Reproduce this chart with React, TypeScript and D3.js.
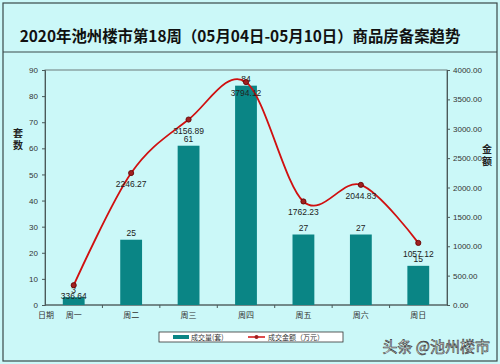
import React, { useEffect, useRef } from "react";
import * as d3 from "d3";

const days = ["周一", "周二", "周三", "周四", "周五", "周六", "周日"];
const volume = [3, 25, 61, 84, 27, 27, 15];
const amount = [336.64, 2246.27, 3156.89, 3794.12, 1762.23, 2044.83, 1057.12];
const leftTicks = [0, 10, 20, 30, 40, 50, 60, 70, 80, 90];
const rightTicks = [0, 500, 1000, 1500, 2000, 2500, 3000, 3500, 4000];

const W = 500;
const H = 364;
const FONT = "'Liberation Sans', 'Noto Sans CJK SC', sans-serif";
const CJK = "'Noto Sans CJK SC', sans-serif";

const App = () => {
  const svgRef = useRef<SVGSVGElement>(null);

  useEffect(() => {
    document.body.style.margin = "0";
    const margin = { top: 70, right: 53, bottom: 59, left: 45 };
    const svg = d3.select(svgRef.current);
    svg.selectAll("*").remove();

    // background + frame
    svg.append("rect").attr("width", W).attr("height", H).attr("fill", "#cbf8f8");
    svg.append("rect").attr("x", 3).attr("y", 3).attr("width", W - 6).attr("height", H - 6)
      .attr("fill", "none").attr("stroke", "#3a4a4a").attr("stroke-width", 1.2);
    svg.append("line").attr("x1", 3).attr("x2", W - 3).attr("y1", 52).attr("y2", 52)
      .attr("stroke", "#3a4a4a").attr("stroke-width", 1);

    svg.append("text").attr("x", 240).attr("y", 42).attr("text-anchor", "middle")
      .attr("font-family", CJK).attr("font-weight", "bold")
      .attr("font-size", 15.4).attr("fill", "#111")
      .text("2020年池州楼市第18周（05月04日-05月10日）商品房备案趋势");

    const x0 = margin.left, x1 = W - margin.right;
    const y0 = H - margin.bottom, y1 = margin.top;

    const x = d3.scaleBand().domain(days).range([x0, x1]).paddingInner(0.62).paddingOuter(0.31);
    const yL = d3.scaleLinear().domain([0, 90]).range([y0, y1]);
    const yR = d3.scaleLinear().domain([0, 4000]).range([y0, y1]);

    // plot box
    svg.append("rect").attr("x", x0).attr("y", y1).attr("width", x1 - x0).attr("height", y0 - y1)
      .attr("fill", "none").attr("stroke", "#6d7a7a").attr("stroke-width", 1);

    // left axis
    const gl = svg.append("g").attr("transform", `translate(${x0},0)`)
      .call(d3.axisLeft(yL).tickValues(leftTicks).tickSize(3).tickPadding(4));
    gl.select(".domain").attr("stroke", "#4a5a5a");
    gl.selectAll("line").attr("stroke", "#4a5a5a");
    gl.selectAll("text").attr("font-size", 8).attr("font-family", FONT).attr("fill", "#333");

    // right axis
    const gr = svg.append("g").attr("transform", `translate(${x1},0)`)
      .call(d3.axisRight(yR).tickValues(rightTicks).tickSize(3).tickPadding(3).tickFormat(d3.format(".2f")));
    gr.select(".domain").attr("stroke", "#4a5a5a");
    gr.selectAll("line").attr("stroke", "#4a5a5a");
    gr.selectAll("text").attr("font-size", 8).attr("font-family", FONT).attr("fill", "#333");

    // x boundary ticks
    const step = (x1 - x0) / days.length;
    svg.append("g").selectAll("line").data(d3.range(1, days.length)).join("line")
      .attr("x1", (i) => x0 + i * step).attr("x2", (i) => x0 + i * step)
      .attr("y1", y0).attr("y2", y0 + 3).attr("stroke", "#4a5a5a");
    svg.append("line").attr("x1", x0).attr("x2", x1).attr("y1", y0).attr("y2", y0)
      .attr("stroke", "#4a5a5a");

    svg.append("g").selectAll("text").data(days).join("text")
      .attr("x", (d) => x(d)! + x.bandwidth() / 2).attr("y", y0 + 13)
      .attr("text-anchor", "middle").attr("font-size", 8)
      .attr("font-family", CJK).attr("fill", "#333").text((d) => d);
    svg.append("text").attr("x", 46).attr("y", y0 + 13).attr("text-anchor", "middle")
      .attr("font-size", 8).attr("font-family", CJK).attr("fill", "#333")
      .text("日期");

    // axis titles, stacked characters
    const vt = (cx: number, cy: number, s: string) => {
      svg.append("g").selectAll("text").data(s.split("")).join("text")
        .attr("x", cx).attr("y", (_, i) => cy + i * 11.5).attr("text-anchor", "middle")
        .attr("font-size", 10).attr("font-weight", "bold")
        .attr("font-family", CJK).attr("fill", "#222").text((c) => c);
    };
    vt(18, 137, "套数");
    vt(487, 153, "金额");

    // bars
    svg.append("g").selectAll("rect").data(volume).join("rect")
      .attr("x", (_, i) => x(days[i])!).attr("width", x.bandwidth())
      .attr("y", (d) => yL(d)).attr("height", (d) => y0 - yL(d)).attr("fill", "#0a8585");
    svg.append("g").selectAll("text").data(volume).join("text")
      .attr("x", (_, i) => x(days[i])! + x.bandwidth() / 2).attr("y", (d) => yL(d) - 4)
      .attr("text-anchor", "middle").attr("font-size", 8.5).attr("font-family", FONT)
      .attr("fill", "#222").text((d) => d);

    // line
    const cx = (i: number) => x(days[i])! + x.bandwidth() / 2;
    const line = d3.line<number>().x((_, i) => cx(i)).y((d) => yR(d)).curve(d3.curveCardinal.tension(0));
    svg.append("path").datum(amount).attr("d", line).attr("fill", "none")
      .attr("stroke", "#d01010").attr("stroke-width", 1.8);
    svg.append("g").selectAll("circle").data(amount).join("circle")
      .attr("cx", (_, i) => cx(i)).attr("cy", (d) => yR(d)).attr("r", 2.6)
      .attr("fill", "#a02020").attr("stroke", "#600000").attr("stroke-width", 0.8);
    svg.append("g").selectAll("text").data(amount).join("text")
      .attr("x", (_, i) => cx(i)).attr("y", (d) => yR(d) + 14)
      .attr("text-anchor", "middle").attr("font-size", 8.5).attr("font-family", FONT)
      .attr("fill", "#222").text((d) => d.toFixed(2));

    // legend
    const lg = svg.append("g");
    lg.append("rect").attr("x", 159).attr("y", 332).attr("width", 184).attr("height", 10)
      .attr("fill", "#fff").attr("stroke", "#333").attr("stroke-width", 0.8);
    lg.append("rect").attr("x", 173).attr("y", 335).attr("width", 16).attr("height", 4).attr("fill", "#0a8585");
    lg.append("text").attr("x", 191).attr("y", 340).attr("font-size", 7)
      .attr("font-family", CJK).attr("fill", "#333").text("成交量(套)");
    lg.append("line").attr("x1", 248).attr("x2", 265).attr("y1", 337).attr("y2", 337)
      .attr("stroke", "#d01010").attr("stroke-width", 1.5);
    lg.append("circle").attr("cx", 256.5).attr("cy", 337).attr("r", 2).attr("fill", "#a02020");
    lg.append("text").attr("x", 268).attr("y", 340).attr("font-size", 7)
      .attr("font-family", CJK).attr("fill", "#333").text("成交金额（万元）");

    // source mark
    svg.append("text").attr("x", 490).attr("y", 352).attr("text-anchor", "end")
      .attr("font-size", 15).attr("font-family", CJK)
      .attr("fill", "#fff").attr("stroke", "#333").attr("stroke-width", 0.6)
      .text("头条 @池州楼市");
  }, []);

  return <svg ref={svgRef} width={W} height={H} style={{ display: "block" }}></svg>;
};

export default App;
